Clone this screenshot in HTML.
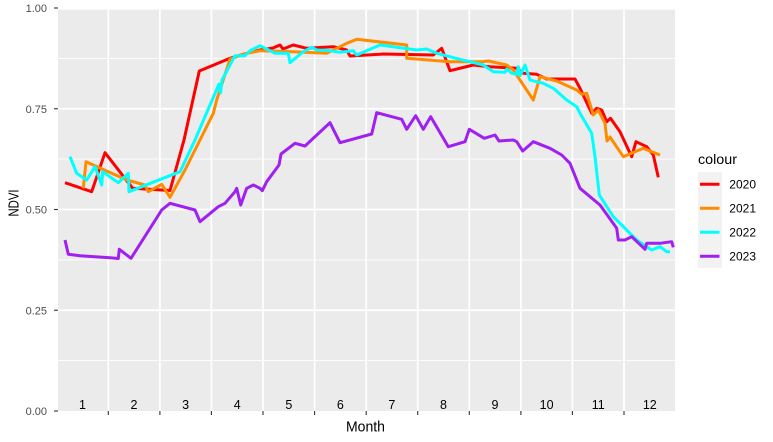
<!DOCTYPE html>
<html><head><meta charset="utf-8"><style>
html,body{margin:0;padding:0;background:#fff;}
svg{display:block;font-family:"Liberation Sans",Arial,sans-serif;}
</style></head><body>
<svg width="773" height="442" viewBox="0 0 773 442" xmlns="http://www.w3.org/2000/svg">
<rect x="0" y="0" width="773" height="442" fill="#fff"/>
<!-- panel -->
<rect x="58" y="8" width="617" height="403" fill="#EBEBEB"/>
<!-- minor horizontal -->
<g stroke="#fff" stroke-width="0.9">
<line x1="58" x2="675" y1="360.6" y2="360.6"/>
<line x1="58" x2="675" y1="259.9" y2="259.9"/>
<line x1="58" x2="675" y1="159.1" y2="159.1"/>
<line x1="58" x2="675" y1="58.4" y2="58.4"/>
</g>
<!-- major horizontal -->
<g stroke="#fff" stroke-width="1.7">
<line x1="58" x2="675" y1="310.25" y2="310.25"/>
<line x1="58" x2="675" y1="209.5" y2="209.5"/>
<line x1="58" x2="675" y1="108.75" y2="108.75"/>
<line x1="58" x2="675" y1="8.8" y2="8.8"/>
</g>
<!-- vertical -->
<g stroke="#fff" stroke-width="1.7">
<line y1="8" y2="411" x1="108.3" x2="108.3"/>
<line y1="8" y2="411" x1="159.9" x2="159.9"/>
<line y1="8" y2="411" x1="211.4" x2="211.4"/>
<line y1="8" y2="411" x1="263" x2="263"/>
<line y1="8" y2="411" x1="314.6" x2="314.6"/>
<line y1="8" y2="411" x1="366.2" x2="366.2"/>
<line y1="8" y2="411" x1="417.7" x2="417.7"/>
<line y1="8" y2="411" x1="469.3" x2="469.3"/>
<line y1="8" y2="411" x1="520.9" x2="520.9"/>
<line y1="8" y2="411" x1="572.4" x2="572.4"/>
<line y1="8" y2="411" x1="624" x2="624"/>
</g>
<!-- month labels -->
<g font-size="12.5" fill="#000" text-anchor="middle">
<text x="82.5" y="409">1</text>
<text x="134" y="409">2</text>
<text x="185.6" y="409">3</text>
<text x="237.2" y="409">4</text>
<text x="288.8" y="409">5</text>
<text x="340.3" y="409">6</text>
<text x="391.9" y="409">7</text>
<text x="443.5" y="409">8</text>
<text x="495" y="409">9</text>
<text x="546.6" y="409">10</text>
<text x="598.2" y="409">11</text>
<text x="649.8" y="409">12</text>
</g>
<!-- series -->
<g fill="none" stroke-width="3" stroke-linejoin="round" stroke-linecap="butt">
<polyline stroke="#FF0000" points="65,182.7 91.7,191.7 105,152.7 132.7,188.3 170,190.5 184,140 199.3,71 230,58.3 246.7,53.3 260,50 273,48 280,45 283,49 293.3,45 306.7,48.3 333.3,46.7 346.7,50 350,56 383.3,54 433.3,55 441.7,48.3 450,70.7 473.3,65 490,66.7 516.7,68.3 523.3,73.3 536.7,74.3 546.7,79 575,79 580,88.3 591.7,113.3 596.7,108.3 601.7,110 606.7,121.7 610.5,118.3 620,131.7 631.7,156.7 636,141.7 646.7,146.7 653.3,155 658.3,177.3"/>
<polyline stroke="#FF8C00" points="83.3,188.3 86,161.7 126.7,180 145,185 148.3,191.7 161.7,184.3 170,197.3 185,170 200,140 213.3,113.3 216.7,100 230,59 246.7,53.3 260,50.7 293.3,51.7 326.7,53.3 346.7,43.3 356.7,39.3 406.7,45 406.7,58.3 450,61.7 483.3,61.7 488.3,61 506.7,65 513.3,70 533.3,100 540,76.7 556.7,81 576.7,90 581.7,94.3 586.7,93.3 593.3,115 598.3,110 605,123.3 607,141 610,137 623.3,156.7 643.3,148.3 660,155"/>
<polyline stroke="#00FFFF" points="70,156.7 76.7,173.3 86.7,180 95,166.7 101.7,185 102.7,171.7 118.3,182.7 128.3,173.3 129,191.7 180,171.7 195,140 219,84 220.5,93 222,80 235,55.7 245,55.7 250,50.7 260,45.7 275,53.3 288.3,53.3 290,62.7 303.3,51.7 311.7,47.3 316.7,50 330,50.7 340,52.3 353.3,50.7 356.7,55 380,45 416.7,50 426.7,49 436.7,53.3 460,59.3 483.3,65 493.3,71.7 505,72.3 506.7,69 511.7,73.3 516.7,74.3 518.3,66.7 520,75.7 525,65 530,80 543.3,83.3 553.3,88.3 566.7,100 576.7,106.7 580,113.3 591.7,133.3 595,156.7 599.3,195 613.3,216.7 636.7,240 646.7,246.7 651.7,250 660,246.7 666.7,251.7 670,251.7"/>
<polyline stroke="#A020F0" points="65,240 68.3,254.3 80,255.7 95,256.7 110,257.7 118.3,258.5 119.3,249.3 131,258.3 161.7,210 170,203.3 195,210 200,221.7 218.3,206.7 225,203.3 235,191.7 236.7,188.3 240.7,205 246.7,188.3 253.3,185 260,188.3 262.3,190.7 266.7,181.7 279,165 281,154 295,143.3 305,146 330,122.7 340,142.7 371.7,134 376.7,112.7 401.7,119.3 406.7,129.3 415.7,115.7 423.3,129.3 430.7,116.7 448.3,146.7 465,141.7 469.3,129.3 484.3,138.3 495,135 499,141 513.3,140 516.7,141.7 522.7,151 533.3,141.7 550,148.3 561.7,155 570,163.3 580,188.3 600,205 616.7,228.3 618.3,240 625,240 631.7,236.7 645,249.3 646.7,243.3 660,243.3 671.7,241.7 673.3,247.3"/>
</g>
<!-- y axis ticks -->
<g stroke="#333" stroke-width="1.1">
<line x1="54" x2="58" y1="411" y2="411"/>
<line x1="54" x2="58" y1="310.25" y2="310.25"/>
<line x1="54" x2="58" y1="209.5" y2="209.5"/>
<line x1="54" x2="58" y1="108.75" y2="108.75"/>
<line x1="54" x2="58" y1="8" y2="8"/>
</g>
<g font-size="11" fill="#4D4D4D" text-anchor="end">
<text x="47" y="415">0.00</text>
<text x="47" y="314.25">0.25</text>
<text x="47" y="213.5">0.50</text>
<text x="47" y="112.75">0.75</text>
<text x="47" y="12">1.00</text>
</g>
<!-- x axis ticks -->
<g stroke="#333" stroke-width="1.1">
<line y1="411" y2="415" x1="108.3" x2="108.3"/>
<line y1="411" y2="415" x1="159.9" x2="159.9"/>
<line y1="411" y2="415" x1="211.4" x2="211.4"/>
<line y1="411" y2="415" x1="263" x2="263"/>
<line y1="411" y2="415" x1="314.6" x2="314.6"/>
<line y1="411" y2="415" x1="366.2" x2="366.2"/>
<line y1="411" y2="415" x1="417.7" x2="417.7"/>
<line y1="411" y2="415" x1="469.3" x2="469.3"/>
<line y1="411" y2="415" x1="520.9" x2="520.9"/>
<line y1="411" y2="415" x1="572.4" x2="572.4"/>
<line y1="411" y2="415" x1="624" x2="624"/>
</g>
<!-- axis titles -->
<text x="365.5" y="431.5" font-size="14.5" fill="#000" text-anchor="middle" textLength="39" lengthAdjust="spacingAndGlyphs">Month</text>
<text transform="translate(18.3,203) rotate(-90)" font-size="14.5" fill="#000" text-anchor="middle" textLength="27" lengthAdjust="spacingAndGlyphs">NDVI</text>
<!-- legend -->
<text x="698" y="164" font-size="14" fill="#000" textLength="39" lengthAdjust="spacingAndGlyphs">colour</text>
<rect x="698" y="172" width="24" height="96" fill="#F2F2F2"/>
<g stroke-width="3">
<line x1="700" x2="719.5" y1="184.3" y2="184.3" stroke="#FF0000"/>
<line x1="700" x2="719.5" y1="208.3" y2="208.3" stroke="#FF8C00"/>
<line x1="700" x2="719.5" y1="232.3" y2="232.3" stroke="#00FFFF"/>
<line x1="700" x2="719.5" y1="256.3" y2="256.3" stroke="#A020F0"/>
</g>
<g font-size="12" fill="#000">
<text x="729.3" y="188.5">2020</text>
<text x="729.3" y="212.5">2021</text>
<text x="729.3" y="236.5">2022</text>
<text x="729.3" y="260.5">2023</text>
</g>
</svg>
</body></html>
